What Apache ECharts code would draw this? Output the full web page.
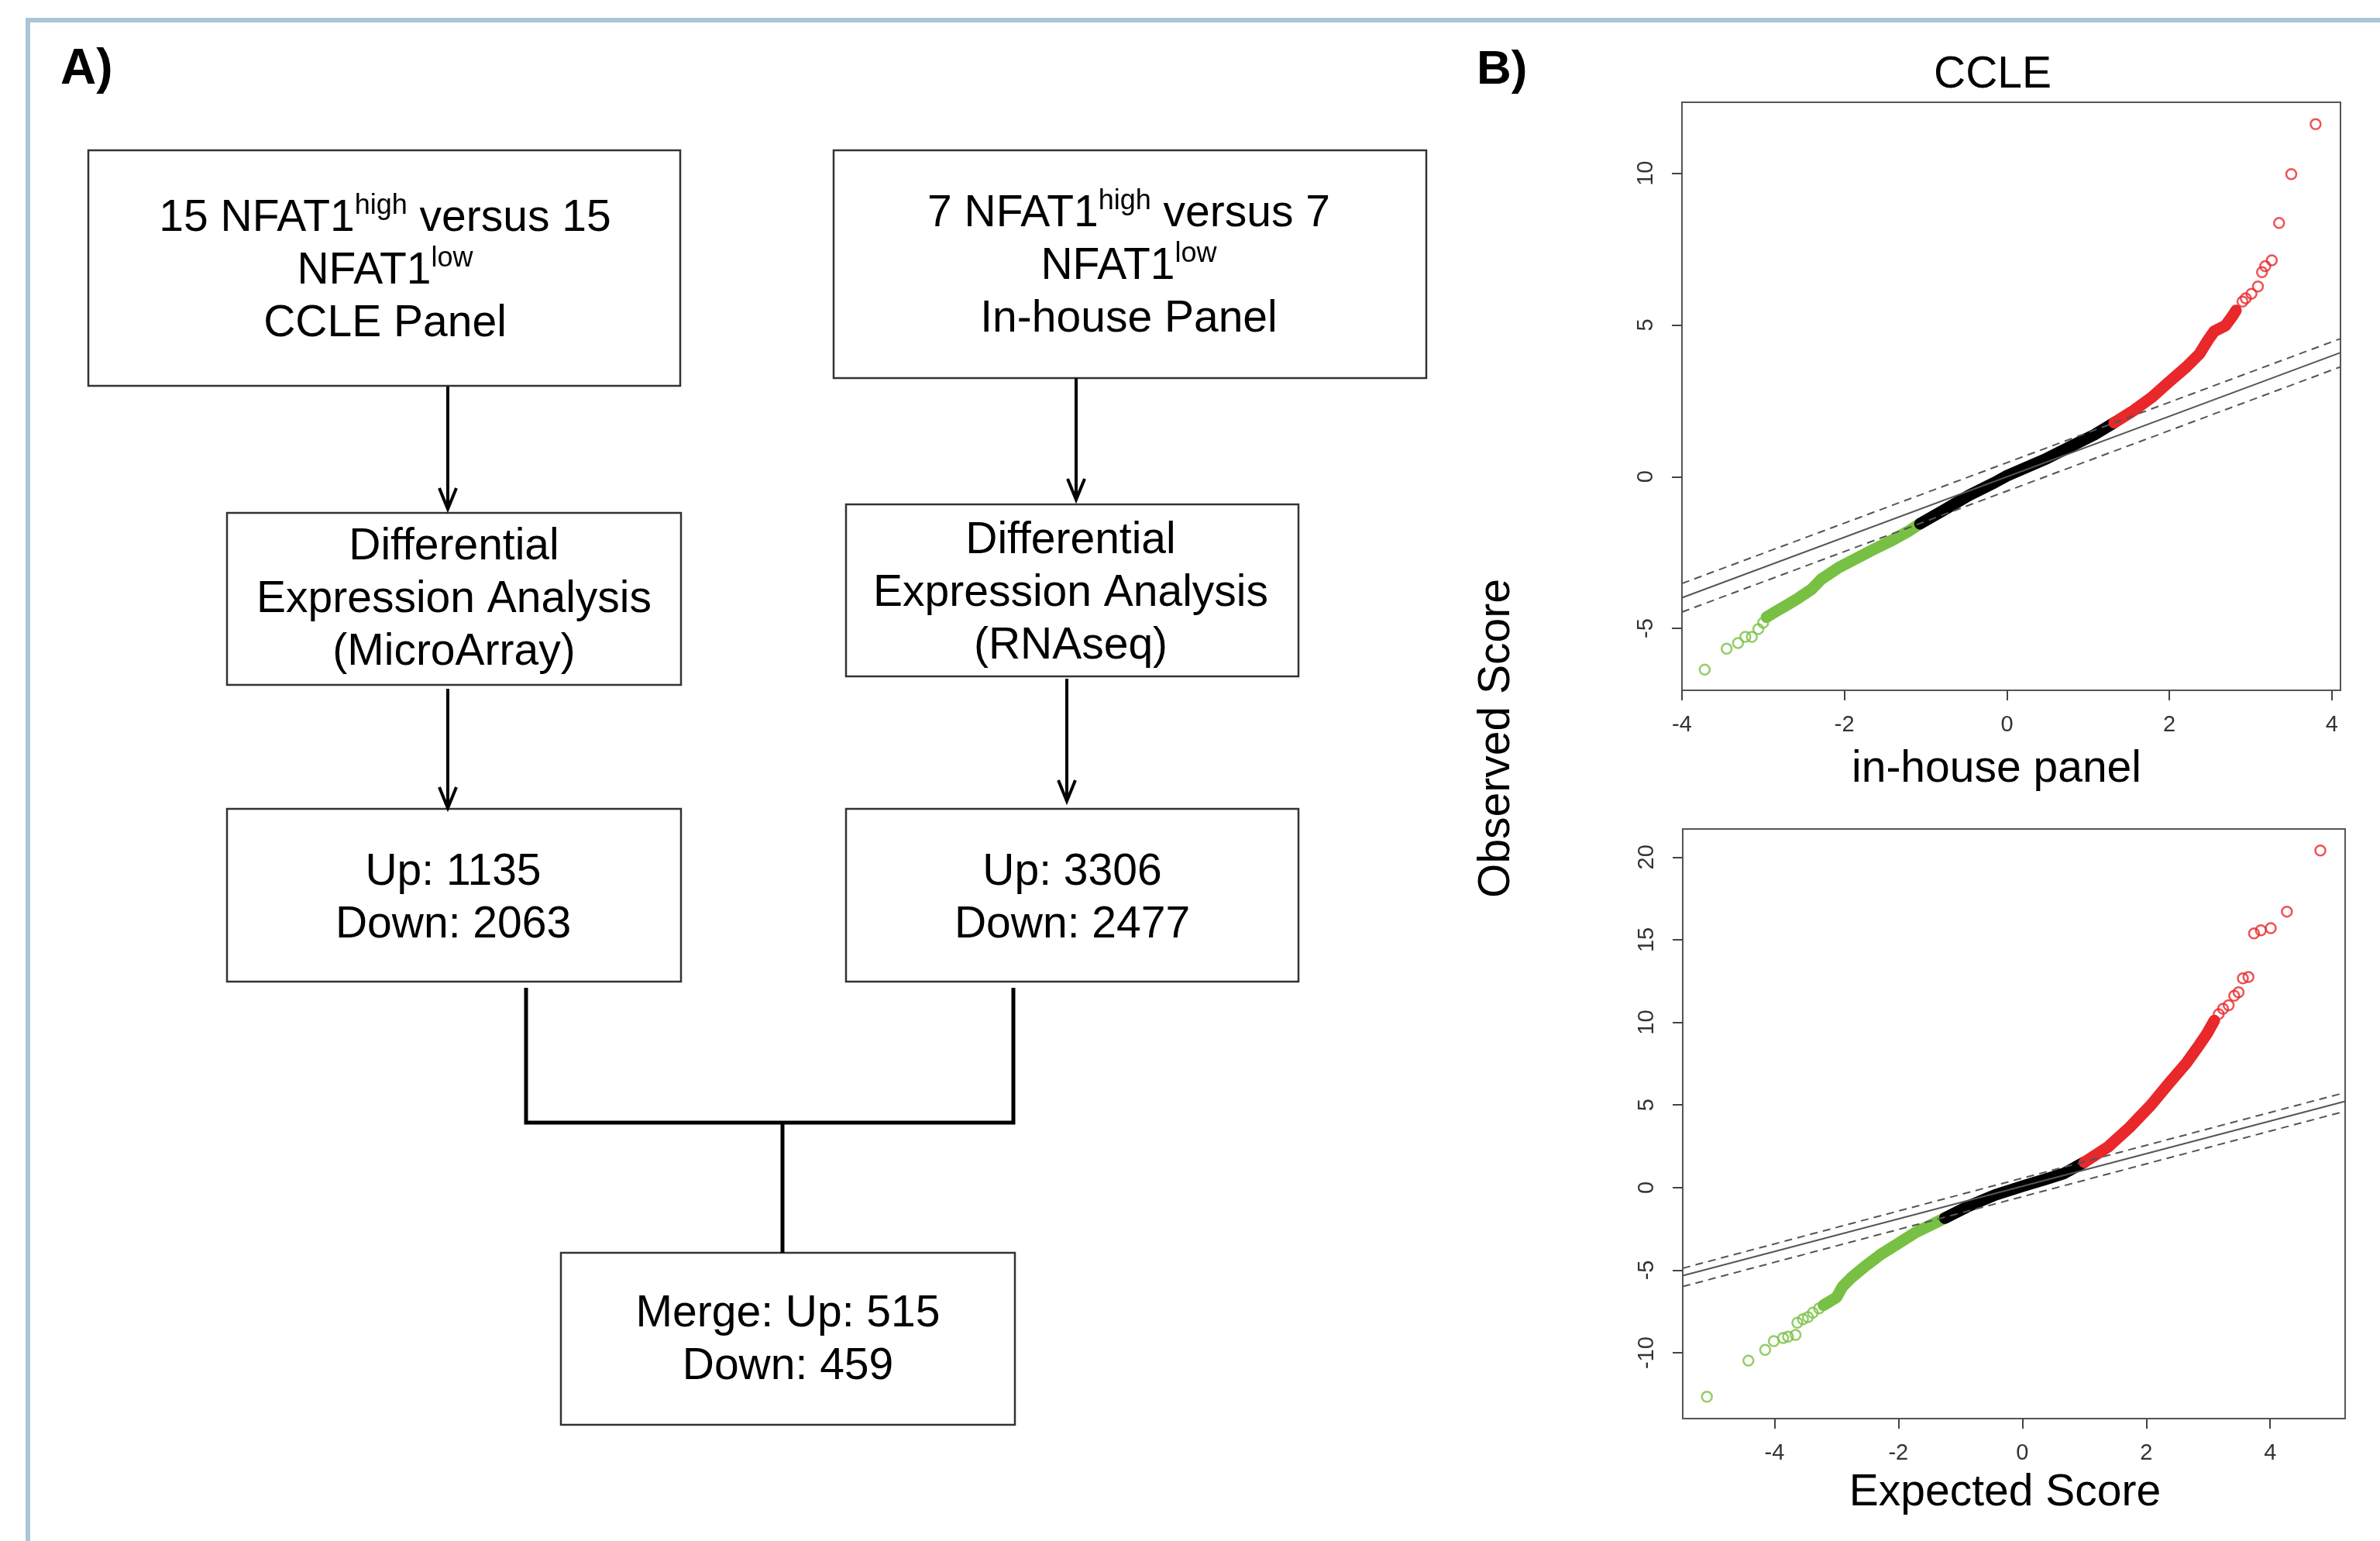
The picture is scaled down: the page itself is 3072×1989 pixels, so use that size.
<!DOCTYPE html>
<html>
<head>
<meta charset="utf-8">
<script src="https://cdn.jsdelivr.net/npm/echarts@6.0.0/dist/echarts.min.js"></script>
<style>
  html, body { margin: 0; padding: 0; background: #fff; }
  #main { width: 3072px; height: 1989px; }
</style>
</head>
<body>
<div id="main"></div>
<script>
var FONT = "'Liberation Sans', Arial, sans-serif";

// ---- Panel B, top: CCLE vs in-house panel ----
var topXTicks = [-4, -2, 0, 2, 4];
var topYTicks = [-5, 0, 5, 10];
var topGreenDots = [[-3.72, -6.36], [-3.45, -5.67], [-3.31, -5.48], [-3.22, -5.28], [-3.14, -5.28], [-3.06, -5.02], [-3.00, -4.81]];
var topGreenBand = [[-2.96, -4.63], [-2.83, -4.42], [-2.72, -4.25], [-2.56, -3.99], [-2.40, -3.70], [-2.29, -3.39], [-2.08, -3.01], [-1.86, -2.70], [-1.65, -2.41], [-1.43, -2.12], [-1.22, -1.81], [-1.07, -1.55]];
var topBlackBand = [[-1.07, -1.55], [-0.79, -1.12], [-0.47, -0.62], [-0.15, -0.19], [0, 0.03], [0.17, 0.23], [0.49, 0.60], [0.81, 1.03], [1.08, 1.39], [1.32, 1.78]];
var topRedBand = [[1.32, 1.78], [1.56, 2.18], [1.78, 2.61], [1.99, 3.11], [2.21, 3.62], [2.37, 4.05], [2.47, 4.48], [2.55, 4.79], [2.69, 4.98], [2.77, 5.27], [2.82, 5.48]];
var topRedDots = [[2.90, 5.77], [2.94, 5.88], [3.01, 6.03], [3.09, 6.27], [3.14, 6.74], [3.18, 6.94], [3.26, 7.13], [3.35, 8.36], [3.50, 9.97], [3.80, 11.62]];
var topFit = [[-4.0, -3.99], [4.106, 4.09]];
var topUpper = [[-4.0, -3.52], [4.106, 4.55]];
var topLower = [[-4.0, -4.46], [4.106, 3.62]];

// ---- Panel B, bottom: observed vs expected ----
var botXTicks = [-4, -2, 0, 2, 4];
var botYTicks = [-10, -5, 0, 5, 10, 15, 20];
var botGreenDots = [[-5.09, -12.66], [-4.42, -10.47], [-4.15, -9.82], [-4.01, -9.29], [-3.86, -9.10], [-3.78, -9.02], [-3.66, -8.92], [-3.63, -8.18], [-3.54, -7.97], [-3.46, -7.84], [-3.38, -7.57], [-3.28, -7.31]];
var botGreenBand = [[-3.21, -7.12], [-3.00, -6.65], [-2.90, -5.99], [-2.76, -5.46], [-2.55, -4.80], [-2.27, -4.01], [-1.99, -3.35], [-1.71, -2.69], [-1.42, -2.16], [-1.25, -1.85]];
var botBlackBand = [[-1.25, -1.85], [-0.86, -1.11], [-0.44, -0.45], [0, 0.08], [0.40, 0.53], [0.68, 0.87], [1.00, 1.53]];
var botRedBand = [[1.00, 1.53], [1.38, 2.45], [1.73, 3.64], [2.08, 5.01], [2.36, 6.28], [2.65, 7.55], [2.86, 8.65], [2.98, 9.31], [3.10, 10.11]];
var botRedDots = [[3.17, 10.50], [3.24, 10.82], [3.33, 11.03], [3.42, 11.61], [3.49, 11.82], [3.56, 12.66], [3.65, 12.74], [3.74, 15.38], [3.85, 15.57], [4.01, 15.70], [4.27, 16.70], [4.81, 20.40]];
var botFit = [[-5.48, -5.33], [5.21, 5.22]];
var botUpper = [[-5.48, -4.88], [5.21, 5.75]];
var botLower = [[-5.48, -5.99], [5.21, 4.62]];

// ---- Panel A flowchart texts ----
var stepTexts = [
    '15 NFAT1{sup|high} versus 15\nNFAT1{sup|low}\nCCLE Panel',
    '7 NFAT1{sup|high} versus 7\nNFAT1{sup|low}\nIn-house Panel',
    'Differential\nExpression Analysis\n(MicroArray)',
    'Differential\nExpression Analysis\n(RNAseq)',
    'Up: 1135\nDown: 2063',
    'Up: 3306\nDown: 2477',
    'Merge: Up: 515\nDown: 459'
];
// box rect [x, y, w, h] and text centre [x, y]
var boxRects = [[114, 194, 764, 304], [1076, 194, 765, 294], [293, 662, 586, 222], [1092, 651, 584, 222], [293, 1044, 586, 223], [1092, 1044, 584, 223], [724, 1617, 586, 222]];
var textCentres = [[497, 350], [1457, 344], [586, 774], [1382, 766], [585, 1160], [1384, 1160], [1017, 1730]];

var GREEN = '#78c044', RED = '#e8282a', BLACK = '#000';

var graphics = [];
// light blue frame
graphics.push({type: 'polyline', shape: {points: [[36, 1989], [36, 26], [3072, 26]]}, style: {stroke: '#a9c6d6', lineWidth: 6, fill: null}});
graphics.push({type: 'text', x: 78, y: 90, style: {text: 'A)', fontSize: 64, fontWeight: 'bold', fontFamily: FONT, fill: '#000', align: 'left', textAlign: 'left', verticalAlign: 'middle', textVerticalAlign: 'middle'}});
graphics.push({type: 'text', x: 1906, y: 91, style: {text: 'B)', fontSize: 62, fontWeight: 'bold', fontFamily: FONT, fill: '#000', align: 'left', textAlign: 'left', verticalAlign: 'middle', textVerticalAlign: 'middle'}});

boxRects.forEach(function (r, i) {
    graphics.push({type: 'rect', shape: {x: r[0], y: r[1], width: r[2], height: r[3]}, style: {fill: '#fff', stroke: '#333', lineWidth: 2.5}});
    graphics.push({
        type: 'text', x: textCentres[i][0], y: textCentres[i][1],
        style: {
            text: stepTexts[i], fontSize: 57, fontFamily: FONT, fill: '#000', lineHeight: 68,
            align: 'center', textAlign: 'center', verticalAlign: 'middle', textVerticalAlign: 'middle',
            rich: {sup: {fontSize: 36, fontFamily: FONT, fill: '#000', lineHeight: 51, verticalAlign: 'top'}}
        }
    });
});

function arrow(x, y1, y2) {
    graphics.push({type: 'line', shape: {x1: x, y1: y1, x2: x, y2: y2 - 2}, style: {stroke: '#000', lineWidth: 4}});
    graphics.push({type: 'polyline', shape: {points: [[x - 11, y2 - 27], [x, y2], [x + 11, y2 - 27]]}, style: {stroke: '#000', lineWidth: 4, fill: null}});
}
arrow(578, 499, 657);
arrow(1389, 488, 645);
arrow(578, 889, 1043);
arrow(1377, 876, 1034);

graphics.push({type: 'polyline', shape: {points: [[679, 1275], [679, 1449], [1308, 1449], [1308, 1275]]}, style: {stroke: '#000', lineWidth: 5, fill: null}});
graphics.push({type: 'line', shape: {x1: 1010, y1: 1449, x2: 1010, y2: 1617}, style: {stroke: '#000', lineWidth: 5}});

// plot titles
function plotText(x, y, txt, rot) {
    graphics.push({type: 'text', x: x, y: y, rotation: rot || 0, style: {text: txt, fontSize: 57, fontFamily: FONT, fill: '#000', align: 'center', textAlign: 'center', verticalAlign: 'middle', textVerticalAlign: 'middle'}});
}
plotText(2572, 97, 'CCLE');
plotText(2577, 993, 'in-house panel');
plotText(2588, 1927, 'Expected Score');
plotText(1932, 953, 'Observed Score', Math.PI / 2);

function valAxis(grid, min, max, ticks, isY) {
    return {
        type: 'value', gridIndex: grid, min: min, max: max,
        axisLine: {show: false, onZero: false}, splitLine: {show: false},
        axisTick: {show: true, customValues: ticks, length: 13, lineStyle: {color: '#444', width: 2}},
        axisLabel: {customValues: ticks, color: '#333', fontSize: 29, fontFamily: FONT, margin: isY ? 32 : 30, rotate: isY ? 90 : 0}
    };
}

function band(data, color, ax) {
    return {type: 'line', xAxisIndex: ax, yAxisIndex: ax, data: data, symbol: 'none', showSymbol: false, silent: true, animation: false, z: 2,
        lineStyle: {color: color, width: 15, cap: 'round', join: 'round'}};
}
function dots(data, color, ax) {
    return {type: 'scatter', xAxisIndex: ax, yAxisIndex: ax, data: data, symbol: 'circle', symbolSize: 13, silent: true, animation: false, z: 2,
        itemStyle: {color: 'rgba(0,0,0,0)', borderColor: color, borderWidth: 2.5}};
}
function ref(data, dashed, ax) {
    return {type: 'line', xAxisIndex: ax, yAxisIndex: ax, data: data, symbol: 'none', showSymbol: false, silent: true, animation: false, z: 3,
        lineStyle: {color: '#555', width: 2, type: dashed ? [10, 7] : 'solid'}};
}

var myChart = echarts.init(document.getElementById('main'));
var option = {
    backgroundColor: '#fff',
    animation: false,
    grid: [
        {left: 2171, top: 132, width: 850, height: 759, show: true, borderColor: '#555', borderWidth: 2, outerBoundsMode: 'none'},
        {left: 2172, top: 1070, width: 855, height: 761, show: true, borderColor: '#555', borderWidth: 2, outerBoundsMode: 'none'}
    ],
    xAxis: [
        valAxis(0, -4.0, 4.106, topXTicks, false),
        valAxis(1, -5.48, 5.21, botXTicks, false)
    ],
    yAxis: [
        valAxis(0, -7.04, 12.34, topYTicks, true),
        valAxis(1, -13.98, 21.7, botYTicks, true)
    ],
    series: [
        band(topGreenBand, GREEN, 0), dots(topGreenDots, GREEN, 0),
        band(topBlackBand, BLACK, 0),
        band(topRedBand, RED, 0), dots(topRedDots, RED, 0),
        ref(topFit, false, 0), ref(topUpper, true, 0), ref(topLower, true, 0),
        band(botGreenBand, GREEN, 1), dots(botGreenDots, GREEN, 1),
        band(botBlackBand, BLACK, 1),
        band(botRedBand, RED, 1), dots(botRedDots, RED, 1),
        ref(botFit, false, 1), ref(botUpper, true, 1), ref(botLower, true, 1)
    ],
    graphic: {elements: graphics}
};
myChart.setOption(option);
</script>
</body>
</html>
